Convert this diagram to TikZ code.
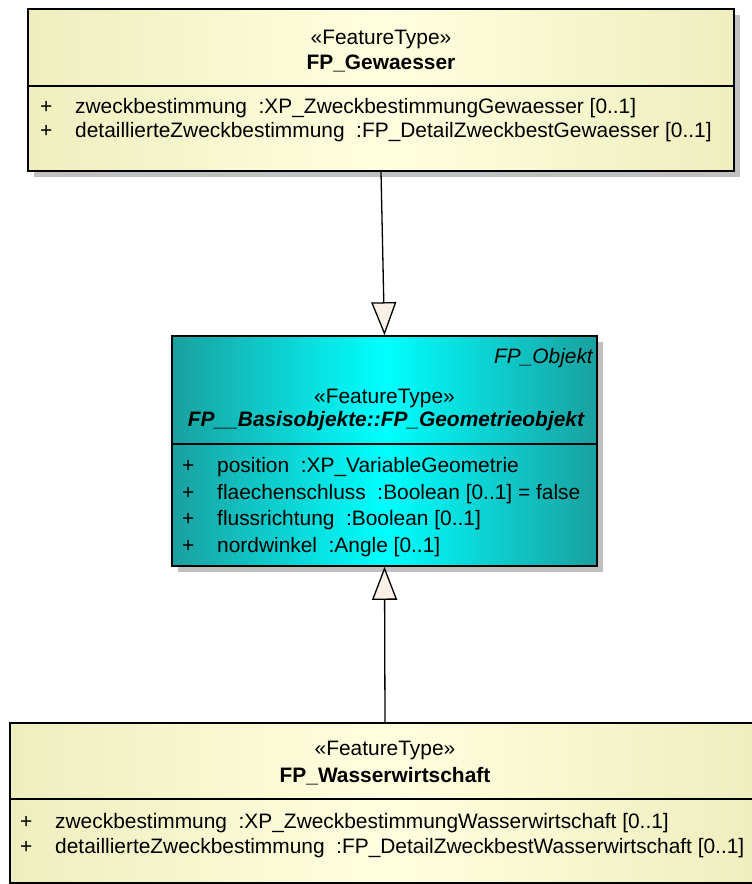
\documentclass[tikz,border=0pt]{standalone}
\usepackage{fontspec}
\setmainfont{Liberation Sans}
\usetikzlibrary{arrows.meta, shadows, positioning}

\definecolor{ftyellowedge}{HTML}{EEEEBE}
\definecolor{ftyellowmid}{HTML}{FFFFE0}
\definecolor{ftbasisedge}{HTML}{1AA0A0}
\definecolor{ftbasismid}{HTML}{00FFFF}
\definecolor{shadowgray}{HTML}{C0C0C0}
\definecolor{tipfill}{HTML}{FAF0E6}

\tikzset{
  classbox/.style={draw=black, line width=1.6pt, inner sep=0pt,
    drop shadow={shadow xshift=6pt, shadow yshift=-6pt, fill=shadowgray, opacity=1}},
  featurebox/.style={classbox, left color=ftyellowedge, right color=ftyellowedge, middle color=ftyellowmid},
  basisbox/.style={classbox, left color=ftbasisedge, right color=ftbasisedge, middle color=ftbasismid},
  divider/.style={line width=1.6pt},
  stereo/.style={anchor=base, inner sep=0pt, font=\fontsize{20.9}{26}\selectfont},
  classname/.style={stereo, font=\fontsize{20.9}{26}\selectfont\bfseries},
  attr/.style={anchor=base west, inner sep=0pt, font=\fontsize{20.9}{26}\selectfont},
  generalization/.style={line width=1.3pt,
    -{Triangle[width=25pt, length=33pt, fill=tipfill, line width=1.3pt]}},
}

\begin{document}
\begin{tikzpicture}[x=1pt, y=-1pt]
\useasboundingbox (0,0) rectangle (752,884);

% class boxes
\node[featurebox, minimum width=706pt, minimum height=162pt] (gewaesser) at (381,90) {};
\node[basisbox, minimum width=425pt, minimum height=230pt] (geoobjekt) at (384.5,451) {};
\node[featurebox, minimum width=750pt, minimum height=160pt] (wasser) at (385,803) {};

\draw[divider] (gewaesser.west |- 0,86) -- (gewaesser.east |- 0,86);
\draw[divider] (geoobjekt.west |- 0,444) -- (geoobjekt.east |- 0,444);
\draw[divider] (wasser.west |- 0,799) -- (wasser.east |- 0,799);

% FP_Gewaesser
\node[stereo] (gewaesser-st) at (381,44) {«FeatureType»};
\node[classname] (gewaesser-nm) at (381,69) {FP\_Gewaesser};
\node[attr] (gewaesser-p1) at (40,113) {+};
\node[attr] (gewaesser-a1) at (75,113) {zweckbestimmung \ :XP\_ZweckbestimmungGewaesser [0..1]};
\node[attr] (gewaesser-p2) at (40,137.5) {+};
\node[attr] (gewaesser-a2) at (75,137.5) {detaillierteZweckbestimmung \ :FP\_DetailZweckbestGewaesser [0..1]};

% FP_Geometrieobjekt
\node[stereo, anchor=base east, font=\fontsize{20.9}{26}\selectfont\itshape] (geoobjekt-pk) at (593,363) {FP\_Objekt};
\node[stereo] (geoobjekt-st) at (384.5,403) {«FeatureType»};
\node[classname, font=\fontsize{20.9}{26}\selectfont\bfseries\itshape] (geoobjekt-nm) at (386,426) {FP\_\_Basisobjekte::FP\_Geometrieobjekt};
\node[attr] (geoobjekt-p1) at (182,472.5) {+};
\node[attr] (geoobjekt-a1) at (217,472.5) {position \ :XP\_VariableGeometrie};
\node[attr] (geoobjekt-p2) at (182,499) {+};
\node[attr] (geoobjekt-a2) at (217,499) {flaechenschluss \ :Boolean [0..1] = false};
\node[attr] (geoobjekt-p3) at (182,525.5) {+};
\node[attr] (geoobjekt-a3) at (217,525.5) {flussrichtung \ :Boolean [0..1]};
\node[attr] (geoobjekt-p4) at (182,552) {+};
\node[attr] (geoobjekt-a4) at (217,552) {nordwinkel \ :Angle [0..1]};

% FP_Wasserwirtschaft
\node[stereo] (wasser-st) at (385,755) {«FeatureType»};
\node[classname] (wasser-nm) at (385,782) {FP\_Wasserwirtschaft};
\node[attr] (wasser-p1) at (20,828) {+};
\node[attr] (wasser-a1) at (55,828) {zweckbestimmung \ :XP\_ZweckbestimmungWasserwirtschaft [0..1]};
\node[attr] (wasser-p2) at (20,853) {+};
\node[attr] (wasser-a2) at (55,853) {detaillierteZweckbestimmung \ :FP\_DetailZweckbestWasserwirtschaft [0..1]};

% generalizations
\draw[generalization] (gewaesser.south) -- (geoobjekt.north);
\draw[generalization] (wasser.north) -- (geoobjekt.south);
\end{tikzpicture}
\end{document}
